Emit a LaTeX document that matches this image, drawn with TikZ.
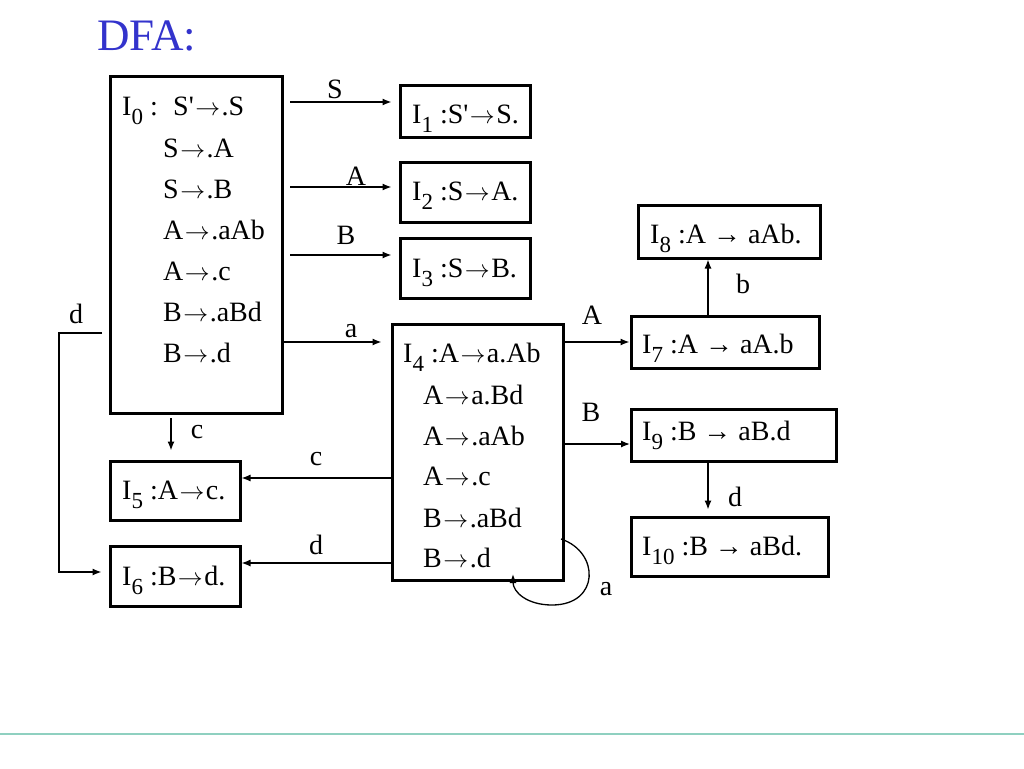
\documentclass[tikz,border=0pt]{standalone}
\usepackage{fontspec}
\setmainfont{Liberation Serif}
\usetikzlibrary{arrows.meta,calc}
\newcommand\ix[1]{\raisebox{-9pt}{\fontsize{23}{23}\selectfont #1}}
\newcommand\ar{\kern1.5pt\ensuremath{\mathord{\rightarrow}}\kern1.5pt}
\newcommand\pr{\textquotesingle}
\definecolor{titleblue}{RGB}{51,51,204}
\definecolor{footline}{RGB}{143,208,192}
\tikzset{
 box/.style={draw, line width=3pt, rectangle, inner sep=0pt},
 txt/.style={anchor=base west, inner sep=0pt, font=\fontsize{28}{28}\selectfont},
 lbl/.style={anchor=base, inner sep=0pt, font=\fontsize{28}{28}\selectfont},
 arr/.style={line width=1.3pt, -{Latex[length=9pt,width=7pt]}},
}
\begin{document}
\begin{tikzpicture}[x=1pt,y=-1pt]
\useasboundingbox (0,0) rectangle (1024,768);
% title
\node[anchor=base west, inner sep=0pt, text=titleblue, font=\fontsize{45}{45}\selectfont] (title) at (97,50) {DFA:};
% boxes
\node[box, minimum width=172pt, minimum height=337pt] (I0) at (196,244.5) {};
\node[box, minimum width=130pt, minimum height=52pt] (I1) at (465,111) {};
\node[box, minimum width=130pt, minimum height=60pt] (I2) at (465,192) {};
\node[box, minimum width=130pt, minimum height=60pt] (I3) at (465,268) {};
\node[box, minimum width=171pt, minimum height=256pt] (I4) at (477.5,452) {};
\node[box, minimum width=130pt, minimum height=59pt] (I5) at (175,490.5) {};
\node[box, minimum width=130pt, minimum height=60pt] (I6) at (175,576) {};
\node[box, minimum width=188pt, minimum height=52pt] (I7) at (725,342) {};
\node[box, minimum width=182pt, minimum height=53pt] (I8) at (729,231.5) {};
\node[box, minimum width=205pt, minimum height=52pt] (I9) at (734,435.5) {};
\node[box, minimum width=197pt, minimum height=59pt] (I10) at (729.5,546.5) {};
% I0 texts
\node[txt] (t0) at (122,115) {I\ix{0} :};
\node[txt] (p0a) at (173,115) {S\pr\ar.S};
\node[txt] (p0b) at (163,157) {S\ar.A};
\node[txt] (p0c) at (163,198) {S\ar.B};
\node[txt] (p0d) at (163,239) {A\ar.aAb};
\node[txt] (p0e) at (163,280) {A\ar.c};
\node[txt] (p0f) at (163,321) {B\ar.aBd};
\node[txt] (p0g) at (163,362) {B\ar.d};
% I1..I3
\node[txt] (t1) at (412,123) {I\ix{1} :S\pr\ar S.};
\node[txt] (t2) at (412,200) {I\ix{2} :S\ar A.};
\node[txt] (t3) at (412,277) {I\ix{3} :S\ar B.};
% I4
\node[txt] (t4) at (403,362) {I\ix{4} :A\ar a.Ab};
\node[txt] (p4b) at (423,404) {A\ar a.Bd};
\node[txt] (p4c) at (423,445) {A\ar.aAb};
\node[txt] (p4d) at (423,485) {A\ar.c};
\node[txt] (p4e) at (423,527) {B\ar.aBd};
\node[txt] (p4f) at (423,567) {B\ar.d};
% I5, I6
\node[txt] (t5) at (122,499) {I\ix{5} :A\ar c.};
\node[txt] (t6) at (122,585) {I\ix{6} :B\ar d.};
% I7..I10
\node[txt] (t7) at (642,353) {I\ix{7} :A → aA.b};
\node[txt] (t8) at (650,243) {I\ix{8} :A → aAb.};
\node[txt] (t9) at (642,440) {I\ix{9} :B → aB.d};
\node[txt] (t10) at (642,555) {I\ix{10} :B → aBd.};
% coordinates for connector ends
\coordinate (cS) at (290,102);
\coordinate (cA) at (290,187);
\coordinate (cB) at (290,255);
\coordinate (ca) at (282,342);
\coordinate (c47) at (563,342);
\coordinate (c49) at (563,444);
\coordinate (c78) at (708,316);
\coordinate (c910) at (708,462);
\coordinate (c05) at (171,418);
\coordinate (c45) at (392,478);
\coordinate (c46) at (392,563);
\coordinate (cd) at (102,333);
\coordinate (cdl) at (59,572);
\coordinate (ls) at (561,539);
\coordinate (le) at (513,574);
% connectors
\draw[arr, shorten >=7pt] (cS) -- (cS -| I1.west);
\draw[arr, shorten >=7pt] (cA) -- (cA -| I2.west);
\draw[arr, shorten >=7pt] (cB) -- (cB -| I3.west);
\draw[arr, shorten >=9pt] (ca) -- (ca -| I4.west);
\draw[arr] (c47) -- (c47 -| I7.west);
\draw[arr] (c49) -- (c49 -| I9.west);
\draw[arr] (c78) -- (c78 |- I8.south);
\draw[arr, shorten >=6pt] (c910) -- (c910 |- I10.north);
\draw[arr, shorten >=9pt] (c05) -- (c05 |- I5.north);
\draw[arr] (c45) -- (c45 -| I5.east);
\draw[arr] (c46) -- (c46 -| I6.east);
\draw[arr, shorten >=7pt] (cd) -| (cdl) -- (cdl -| I6.west);
\draw[arr] (ls) .. controls (600,552) and (600,605) .. (552,605) .. controls (527,605) and (513,592) .. (le);
% labels
\node[lbl] (lS) at (335,98) {S};
\node[lbl] (lA) at (356,185) {A};
\node[lbl] (lB) at (346,244) {B};
\node[lbl] (la) at (351,337) {a};
\node[lbl] (ld) at (76,323) {d};
\node[lbl] (lc) at (197,438) {c};
\node[lbl] (lc2) at (316,465) {c};
\node[lbl] (ld2) at (316,554) {d};
\node[lbl] (lA2) at (592,324) {A};
\node[lbl] (lB2) at (591,421) {B};
\node[lbl] (lb) at (743,293) {b};
\node[lbl] (ld3) at (735,506) {d};
\node[lbl] (la2) at (606,595) {a};
% footer line
\draw[footline, line width=2pt] (0,734) -- (1024,734);
\end{tikzpicture}
\end{document}
